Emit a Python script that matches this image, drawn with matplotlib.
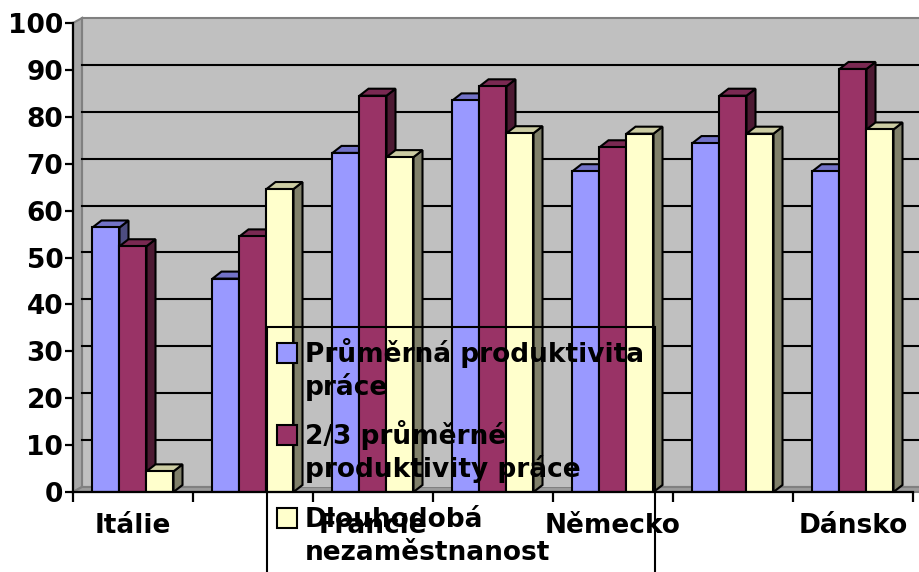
import matplotlib
matplotlib.use("Agg")
import matplotlib.pyplot as plt
from matplotlib.patches import Polygon, Rectangle

# ---- data -------------------------------------------------------------
categories = ["Itálie", "", "Francie", "", "Německo", "", "Dánsko"]
series_names = ["Průměrná produktivita\npráce",
                "2/3 průměrné\nproduktivity práce",
                "Dlouhodobá\nnezaměstnanost"]
avg_productivity = [56.4, 45.5, 72.3, 83.5, 68.4, 74.4, 68.4]
two_thirds_productivity = [52.4, 54.5, 84.5, 86.5, 73.5, 84.5, 90.2]
long_term_unemployment = [4.4, 64.6, 71.4, 76.5, 76.4, 76.4, 77.3]
y_ticks = [0, 10, 20, 30, 40, 50, 60, 70, 80, 90, 100]

series = [avg_productivity, two_thirds_productivity, long_term_unemployment]

# front / top / side shades for each series
front_colors = ["#9999FF", "#993366", "#FFFFCC"]
top_colors = ["#7272C8", "#7A2952", "#CCCCA3"]
side_colors = ["#4D4D80", "#4D1A33", "#80806A"]

# ---- figure / axes geometry (pixels) ------------------------------------
W, H, DPI = 920, 572, 100
AX_L, AX_R, AX_T, AX_B = 73, 913, 23, 492

plt.rcParams["font.family"] = ["DejaVu Sans"]
plt.rcParams["font.weight"] = "bold"

fig = plt.figure(figsize=(W / DPI, H / DPI), dpi=DPI, facecolor="white")
ax = fig.add_axes([AX_L / W, (H - AX_B) / H, (AX_R - AX_L) / W, (AX_B - AX_T) / H])
ax.patch.set_visible(False)

n = len(categories)
x0, x1 = -0.5, n - 0.5
ax.set_xlim(x0, x1)
ax.set_ylim(0, 100)

px_x = (x1 - x0) / (AX_R - AX_L)      # data units per pixel, x
px_y = 100.0 / (AX_B - AX_T)          # data units per pixel, y

# depth of the 3-D walls and of the columns
wdx, wdy = 9 * px_x, 5 * px_y
bdx, bdy = 9 * px_x, 7 * px_y
x_far = x1 + 12 * px_x

# walls and floor
ax.add_patch(Polygon([(x0 + wdx, wdy), (x_far, wdy), (x_far, 100 + wdy), (x0 + wdx, 100 + wdy)],
                     closed=True, facecolor="#C0C0C0", edgecolor="#808080", lw=1.5,
                     clip_on=False, zorder=0.5))
ax.add_patch(Polygon([(x0, 0), (x0 + wdx, wdy), (x0 + wdx, 100 + wdy), (x0, 100)],
                     closed=True, facecolor="#A6A6A6", edgecolor="#808080", lw=1.5,
                     clip_on=False, zorder=0.6))
ax.add_patch(Polygon([(x0, 0), (x_far, 0), (x_far + wdx, wdy), (x0 + wdx, wdy)],
                     closed=True, facecolor="#9C9C9C", edgecolor="#808080", lw=1.5,
                     clip_on=False, zorder=0.6))

# gridlines on the back wall
for v in y_ticks[1:-1]:
    ax.plot([x0 + wdx, x_far], [v + wdy, v + wdy], color="black", lw=1.5,
            clip_on=False, zorder=1)

# ---- legend box geometry (pixels) ---------------------------------------
LEG_L, LEG_T, LEG_R, LEG_B = 267, 327, 655, 585


def fx(px):
    return px / W


def fy(py):
    return 1 - py / H


# the wall behind the legend carries no gridlines
ax.add_patch(Rectangle((fx(LEG_L + 1), fy(AX_B - 5)), fx(LEG_R - LEG_L - 2),
                       (AX_B - 5 - LEG_T - 1) / H, transform=fig.transFigure,
                       facecolor="#C0C0C0", edgecolor="none", clip_on=False, zorder=1.2))

# ---- 3-D columns ----------------------------------------------------------
bw = 27 * px_x
offsets = [-bw, 0.0, bw]
for s, vals in enumerate(series):
    z = 2 + s
    xs = [i + offsets[s] for i in range(n)]
    ax.bar(xs, vals, width=bw, color=front_colors[s], edgecolor="black",
           lw=1.5, zorder=z + 0.2)
    for xc, v in zip(xs, vals):
        l, r = xc - bw / 2, xc + bw / 2
        ax.add_patch(Polygon([(r, 0), (r + bdx, bdy), (r + bdx, v + bdy), (r, v)],
                             closed=True, facecolor=side_colors[s], edgecolor="black",
                             lw=1.5, joinstyle="miter", zorder=z + 0.1))
        ax.add_patch(Polygon([(l, v), (r, v), (r + bdx, v + bdy), (l + bdx, v + bdy)],
                             closed=True, facecolor=top_colors[s], edgecolor="black",
                             lw=1.5, joinstyle="miter", zorder=z + 0.1))

# ---- axes, ticks, labels ---------------------------------------------------
for side in ["top", "right"]:
    ax.spines[side].set_visible(False)
for side in ["left", "bottom"]:
    ax.spines[side].set_linewidth(1.6)
    ax.spines[side].set_color("black")
    ax.spines[side].set_zorder(6)

ax.set_yticks(y_ticks)
ax.set_yticklabels([str(t) for t in y_ticks])
ax.tick_params(axis="y", direction="out", length=6, width=1.6, pad=1,
               labelsize=19, colors="black")

ax.set_xticks([x0 + k for k in range(n + 1)])
ax.set_xticklabels([])
ax.set_xticks(range(n), minor=True)
ax.set_xticklabels(categories, minor=True)
ax.tick_params(axis="x", which="major", direction="out", length=7, width=1.6)
ax.tick_params(axis="x", which="minor", length=0, pad=15, labelsize=19)
for lab in ax.get_xticklabels(minor=True) + ax.get_yticklabels():
    lab.set_fontweight("bold")

# ---- legend ------------------------------------------------------------------
fig.patches.append(Rectangle((fx(LEG_L), fy(LEG_B)), fx(LEG_R - LEG_L), (LEG_B - LEG_T) / H,
                             transform=fig.transFigure, facecolor="none",
                             edgecolor="black", lw=1.5, zorder=10))
entry_top = [343, 425, 508]
line_gap = 33
for k, name in enumerate(series_names):
    top = entry_top[k]
    fig.patches.append(Rectangle((fx(277), fy(top + 20)), fx(20), 20 / H,
                                 transform=fig.transFigure, facecolor=front_colors[k],
                                 edgecolor="black", lw=1.5, zorder=11))
    for j, line in enumerate(name.split("\n")):
        fig.text(fx(305), fy(top + 19 + j * line_gap), line, fontsize=19,
                 fontweight="bold", ha="left", va="baseline", zorder=12)

fig.savefig("out.png", dpi=DPI, facecolor="white")
